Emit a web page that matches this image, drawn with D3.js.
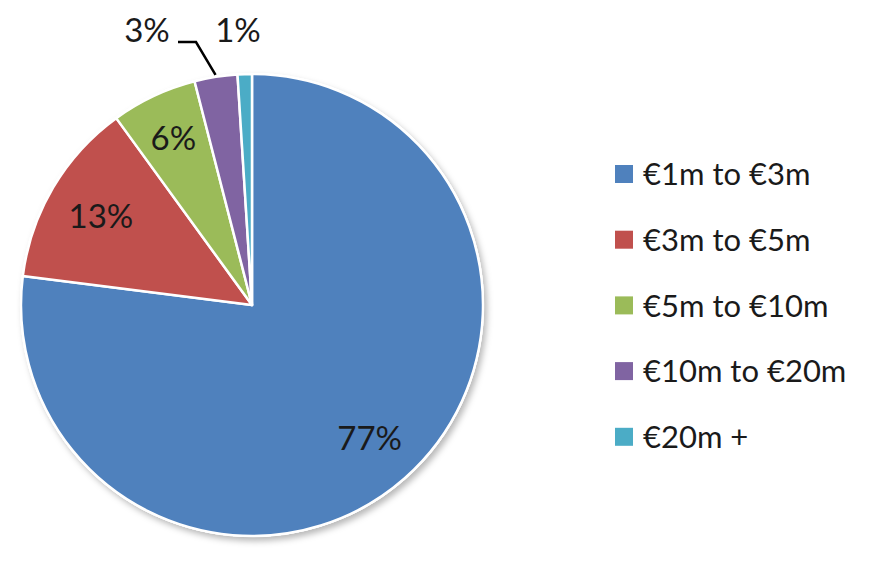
<!DOCTYPE html>
<html>
<head>
<meta charset="utf-8">
<script src="https://cdn.jsdelivr.net/npm/d3@7"></script>
<style>
  body { margin: 0; background: #fff; }
  text { font-family: Lato, "Noto Sans", sans-serif; fill: #1a1a1a; }
</style>
</head>
<body>
<svg id="chart" width="870" height="570"></svg>
<script>
const categories = ["€1m to €3m", "€3m to €5m", "€5m to €10m", "€10m to €20m", "€20m +"];
const shares = [77, 13, 6, 3, 1];
const labels = ["77%", "13%", "6%", "3%", "1%"];
const colours = ["#4F81BD", "#C0504D", "#9BBB59", "#8064A2", "#4BACC6"];

const cx = 252, cy = 305, radius = 231;

const svg = d3.select("#chart");

// soft drop shadow like the office chart
const defs = svg.append("defs");
const f = defs.append("filter").attr("id", "shadow")
  .attr("x", "-10%").attr("y", "-10%").attr("width", "125%").attr("height", "125%");
f.append("feDropShadow")
  .attr("dx", 3).attr("dy", 4).attr("stdDeviation", 3)
  .attr("flood-color", "#000").attr("flood-opacity", 0.28);

const data = categories.map((c, i) => ({ name: c, value: shares[i], label: labels[i], colour: colours[i] }));

const pie = d3.pie().value(d => d.value).sort(null);
const arc = d3.arc().innerRadius(0).outerRadius(radius);
const arcs = pie(data);

const g = svg.append("g").attr("transform", `translate(${cx},${cy})`);

g.append("circle")
  .attr("r", radius + 1)
  .attr("fill", "#fff")
  .attr("filter", "url(#shadow)");

g.selectAll("path.slice")
  .data(arcs)
  .enter().append("path")
  .attr("class", "slice")
  .attr("d", arc)
  .attr("fill", d => d.data.colour)
  .attr("stroke", "#fff")
  .attr("stroke-width", 2.5)
  .attr("stroke-linejoin", "round");

// label placement: inside for the big slices, outside for the small ones
const at = k => d3.arc().innerRadius(radius * k).outerRadius(radius * k);
const labelPos = [
  d => at(0.77).centroid(d),
  d => at(0.76).centroid(d),
  d => at(0.80).centroid(d),
  d => [-105, -275],
  d => [-14, -275]
];

g.selectAll("text.pct")
  .data(arcs)
  .enter().append("text")
  .attr("class", "pct")
  .attr("x", (d, i) => labelPos[i](d)[0])
  .attr("y", (d, i) => labelPos[i](d)[1])
  .attr("dy", "0.36em")
  .attr("text-anchor", "middle")
  .style("font-size", "33px")
  .text(d => d.data.label);

// leader line for the 3% slice
const a3 = arcs[3];
const mid = (a3.startAngle + a3.endAngle) / 2;
const edge = [Math.sin(mid) * (radius + 2), -Math.cos(mid) * (radius + 2)];
g.append("path")
  .attr("d", d3.line()([[-74, -263], [-56, -263], edge]))
  .attr("fill", "none")
  .attr("stroke", "#000")
  .attr("stroke-width", 2.5);

// legend
const legend = svg.append("g").attr("transform", "translate(615,174)");
const rows = legend.selectAll("g.row")
  .data(data)
  .enter().append("g")
  .attr("class", "row")
  .attr("transform", (d, i) => `translate(0,${i * 65.7})`);

rows.append("rect")
  .attr("x", 0).attr("y", -9)
  .attr("width", 18).attr("height", 18)
  .attr("fill", d => d.colour);

rows.append("text")
  .attr("x", 28)
  .attr("dy", "0.36em")
  .style("font-size", "31px")
  .text(d => d.name);
</script>
</body>
</html>
